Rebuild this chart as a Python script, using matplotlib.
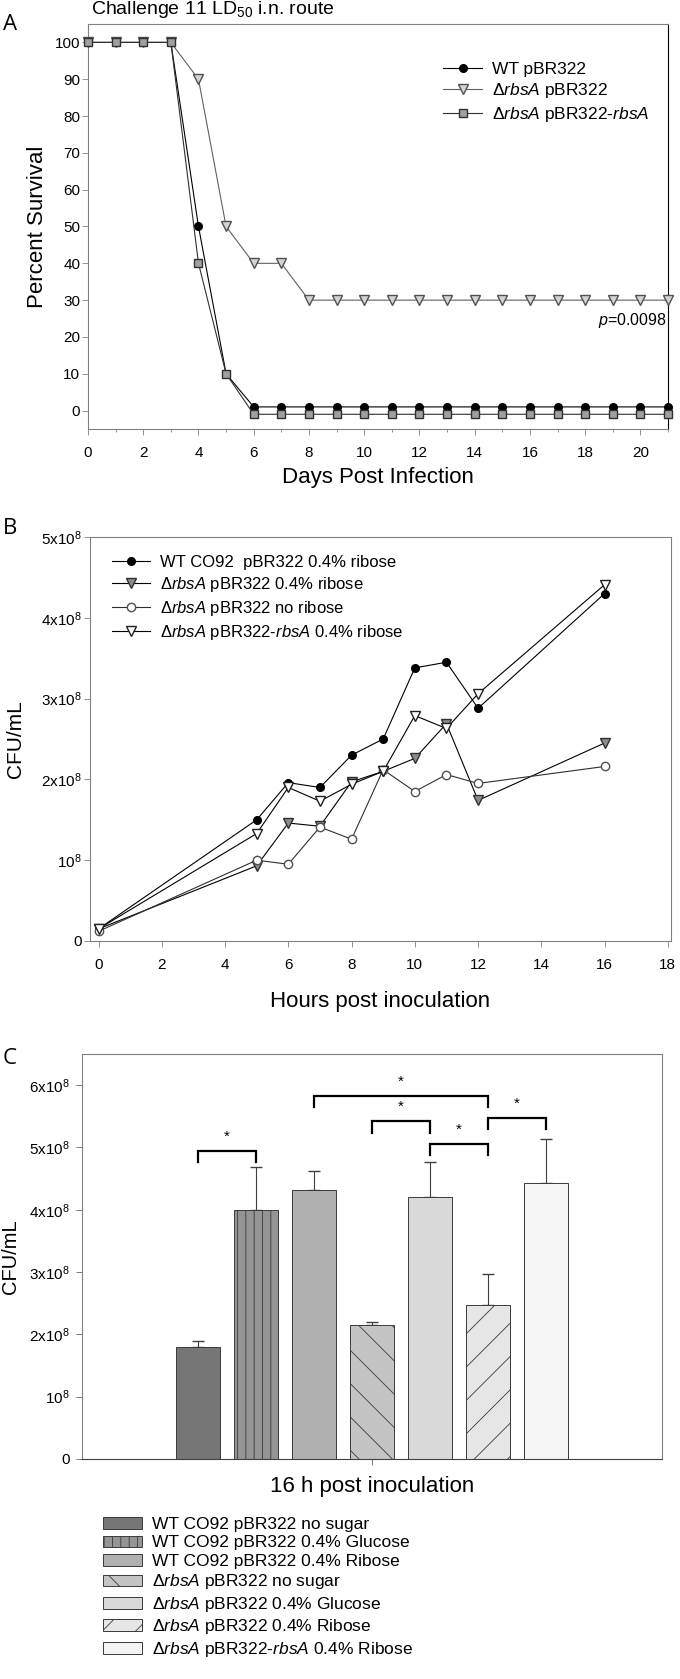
import matplotlib
matplotlib.use("Agg")
import matplotlib.pyplot as plt
import numpy as np

fam = 'Liberation Sans'
plt.rcParams['font.family'] = [fam, 'DejaVu Sans']
plt.rcParams['mathtext.fontset'] = 'custom'
plt.rcParams['mathtext.rm'] = fam
plt.rcParams['mathtext.it'] = fam + ':italic'
plt.rcParams['mathtext.default'] = 'regular'
plt.rcParams['hatch.linewidth'] = 0.6
plt.rcParams['axes.linewidth'] = 0.8

# ---- panel A : survival after challenge
days = [0, 1, 2, 3, 4, 5, 6, 7, 8, 9, 10, 11, 12, 13, 14, 15, 16, 17, 18, 19, 20, 21]
wt_surv = [100, 100, 100, 100, 50, 10, 1, 1, 1, 1, 1, 1, 1, 1, 1, 1, 1, 1, 1, 1, 1, 1]
rbsa_surv = [100, 100, 100, 100, 90, 50, 40, 40, 30, 30, 30, 30, 30, 30, 30, 30, 30, 30, 30, 30, 30, 30]
comp_surv = [100, 100, 100, 100, 40, 10, -1, -1, -1, -1, -1, -1, -1, -1, -1, -1, -1, -1, -1, -1, -1, -1]

# ---- panel B : growth curves (x10^8 CFU/mL)
hours = [0, 5, 6, 7, 8, 9, 10, 11, 12, 16]
wt_rib = [0.15, 1.50, 1.96, 1.90, 2.30, 2.50, 3.38, 3.45, 2.88, 4.30]
rbsa_rib = [0.15, 0.93, 1.46, 1.42, 1.97, 2.10, 2.26, 2.69, 1.74, 2.45]
rbsa_none = [0.12, 1.00, 0.95, 1.41, 1.26, 2.12, 1.85, 2.06, 1.95, 2.16]
comp_rib = [0.15, 1.33, 1.90, 1.73, 1.94, 2.10, 2.79, 2.63, 3.06, 4.41]
b_yticklabels = ['0', '10$^8$', '2x10$^8$', '3x10$^8$', '4x10$^8$', '5x10$^8$']

# ---- panel C : 16 h (x10^8 CFU/mL)
c_labels = ['WT CO92 pBR322 no sugar',
            'WT CO92 pBR322 0.4% Glucose',
            'WT CO92 pBR322 0.4% Ribose',
            'Δ$\\mathit{rbsA}$ pBR322 no sugar',
            'Δ$\\mathit{rbsA}$ pBR322 0.4% Glucose',
            'Δ$\\mathit{rbsA}$ pBR322 0.4% Ribose',
            'Δ$\\mathit{rbsA}$ pBR322-$\\mathit{rbsA}$ 0.4% Ribose']
c_means = [1.80, 4.00, 4.31, 2.15, 4.21, 2.47, 4.43]
c_errs = [0.10, 0.68, 0.32, 0.05, 0.56, 0.50, 0.71]
c_yticklabels = ['0', '10$^8$', '2x10$^8$', '3x10$^8$', '4x10$^8$', '5x10$^8$', '6x10$^8$']
# significance pairs (bar i, bar j, bracket height x10^8)
sig_pairs = [(0, 1, 4.94), (2, 5, 5.83), (3, 4, 5.42), (4, 5, 5.06), (5, 6, 5.47)]

c_colors = ['#767676', '#959595', '#b0b0b0', '#c4c4c4', '#d9d9d9', '#e6e6e6', '#f5f5f5']
c_hatch = ['', '||', '', '\\', '', '/', '']

SC = 1e8
W, H = 680., 1679.


def box(l, t, r, b):
    return [l / W, 1 - b / H, (r - l) / W, (b - t) / H]


def frame(ax, right='#808080'):
    for s in ['left', 'top', 'bottom']:
        ax.spines[s].set_color('#808080')
    ax.spines['right'].set_color(right)


fig = plt.figure(figsize=(W / 100, H / 100), dpi=100)

####A
axA = fig.add_axes(box(88, 24, 668, 429))
axA.plot(days, wt_surv, '-o', color='k', mfc='k', mec='k', ms=5.5, lw=0.8,
         label='WT pBR322', clip_on=False, zorder=3)
axA.plot(days, rbsa_surv, '-v', color='#606060', mfc='#d4d4d4', mec='#505050', ms=7, lw=0.8,
         label='Δ$\\mathit{rbsA}$ pBR322', clip_on=False, zorder=3)
axA.plot(days, comp_surv, '-s', color='#303030', mfc='#a0a0a0', mec='#303030', ms=5.8, lw=0.8,
         label='Δ$\\mathit{rbsA}$ pBR322-$\\mathit{rbsA}$', clip_on=False, zorder=4)
axA.set_xlim(0, 21)
axA.set_ylim(-5, 105)
axA.set_yticks(np.arange(0, 101, 10))
axA.set_xticks(np.arange(0, 21, 2))
axA.set_xticks(np.arange(0, 22, 1), minor=True)
axA.tick_params(axis='both', which='both', direction='out', color='#808080', width=0.6, labelsize=11)
axA.tick_params(axis='x', which='major', length=4, pad=8)
axA.tick_params(axis='x', which='minor', length=2.2)
axA.tick_params(axis='y', length=4, pad=1.5)
frame(axA, right='k')
axA.set_xlabel('Days Post Infection', fontsize=16)
axA.set_ylabel('Percent Survival', fontsize=16)
axA.xaxis.set_label_coords(0.5, -0.094)
axA.yaxis.set_label_coords(-0.069, 0.5)
axA.text(20.95, 24.5, '$\\mathit{p}$=0.0098', ha='right', va='center', fontsize=11.5)
axA.legend(loc='upper left', bbox_to_anchor=(443 / W, 1 - 62 / H), bbox_transform=fig.transFigure,
           frameon=False, fontsize=12.5, handlelength=2.25, handletextpad=0.55, labelspacing=0.25,
           borderpad=0, borderaxespad=0)
fig.text(91 / W, 1 - 14 / H, 'Challenge 11 LD$_{50}$ i.n. route', fontsize=14, va='baseline')

####B
axB = fig.add_axes(box(90, 537, 671, 941))
axB.plot(hours, np.array(wt_rib) * SC, '-o', color='k', mfc='k', mec='k', ms=5.5, lw=0.8,
         label='WT CO92  pBR322 0.4% ribose', clip_on=False, zorder=3)
axB.plot(hours, np.array(rbsa_rib) * SC, '-v', color='k', mfc='#8c8c8c', mec='#303030', ms=6.5, lw=0.8,
         label='Δ$\\mathit{rbsA}$ pBR322 0.4% ribose', clip_on=False, zorder=3)
axB.plot(hours, np.array(rbsa_none) * SC, '-o', color='#303030', mfc='white', mec='#505050', ms=6, lw=0.8,
         label='Δ$\\mathit{rbsA}$ pBR322 no ribose', clip_on=False, zorder=3)
axB.plot(hours, np.array(comp_rib) * SC, '-v', color='k', mfc='white', mec='#202020', ms=7, lw=0.8,
         label='Δ$\\mathit{rbsA}$ pBR322-$\\mathit{rbsA}$ 0.4% ribose', clip_on=False, zorder=3)
axB.set_xlim(-0.27, 18.1)
axB.set_ylim(0, 5 * SC)
axB.set_xticks(np.arange(0, 19, 2))
axB.set_yticks(np.arange(0, 6) * SC)
axB.set_yticklabels(b_yticklabels)
axB.tick_params(axis='both', direction='out', color='#808080', width=0.6, length=4, labelsize=11)
axB.tick_params(axis='x', pad=8)
axB.tick_params(axis='y', pad=2)
frame(axB)
axB.set_xlabel('Hours post inoculation', fontsize=16)
axB.set_ylabel('CFU/mL', fontsize=15)
axB.xaxis.set_label_coords(0.5, -0.124)
axB.yaxis.set_label_coords(-0.112, 0.5)
axB.legend(loc='upper left', bbox_to_anchor=(112 / W, 1 - 555 / H), bbox_transform=fig.transFigure,
           frameon=False, fontsize=12, handlelength=2.3, handletextpad=0.6, labelspacing=0.3,
           borderpad=0, borderaxespad=0)

####C
axC = fig.add_axes(box(82, 1054, 662, 1459))
xc = np.arange(len(c_means)) - 3
for i in range(len(c_means)):
    axC.bar(xc[i], c_means[i] * SC, width=0.75, color=c_colors[i], edgecolor='#3a3a3a',
            linewidth=0.7, hatch=c_hatch[i], label=c_labels[i], zorder=2)
eb = axC.errorbar(xc, np.array(c_means) * SC, yerr=[np.zeros(len(c_errs)), np.array(c_errs) * SC],
                  fmt='none', ecolor='#404040', elinewidth=0.8, capsize=4, capthick=1.0, zorder=1)
for cl in eb[1]:
    cl.set_color('#909090')
for i, j, y in sig_pairs:
    axC.plot([xc[i], xc[i], xc[j], xc[j]], np.array([y - 0.18, y, y, y - 0.18]) * SC,
             color='k', lw=1.6, solid_joinstyle='miter', zorder=3)
    axC.text((xc[i] + xc[j]) / 2., (y + 0.23) * SC, '*', ha='center', va='center', fontsize=11)
axC.set_xlim(-5, 5)
axC.set_ylim(0, 6.5 * SC)
axC.set_xticks([0])
axC.set_xticklabels([''])
axC.set_yticks(np.arange(0, 7) * SC)
axC.set_yticklabels(c_yticklabels)
axC.tick_params(axis='both', direction='out', color='#606060', width=0.6, length=4, labelsize=11)
axC.tick_params(axis='y', pad=5)
frame(axC)
axC.spines['bottom'].set_color('#404040')
axC.set_xlabel('16 h post inoculation', fontsize=16)
axC.set_ylabel('CFU/mL', fontsize=14.5)
axC.xaxis.set_label_coords(0.5, -0.042)
axC.yaxis.set_label_coords(-0.107, 0.5)
axC.legend(loc='upper left', bbox_to_anchor=(103 / W, 1 - 1517 / H), bbox_transform=fig.transFigure,
           frameon=False, fontsize=12.5, handlelength=2.25, handleheight=0.65, handletextpad=0.6,
           labelspacing=0.2, borderpad=0, borderaxespad=0)

for lab, y in [('A', 25), ('B', 528), ('C', 1058)]:
    fig.text(3 / W, 1 - y / H, lab, fontsize=16, family='Open Sans', va='center', ha='left')

plt.savefig('out.png', dpi=100)
